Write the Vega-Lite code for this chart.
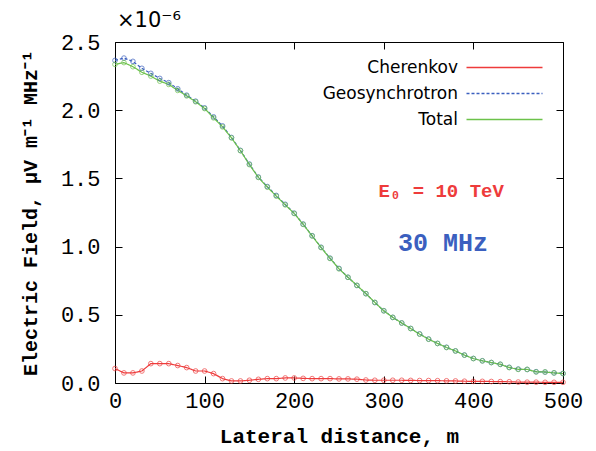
{
  "$schema": "https://vega.github.io/schema/vega-lite/v6.json",
  "width": 448,
  "height": 341,
  "autosize": {"type": "none"},
  "padding": {"left": 115, "top": 42, "right": 33, "bottom": 68},
  "background": "white",
  "title": {"text": "×10⁻⁶", "anchor": "start", "frame": "group", "font": "DejaVu Sans", "fontSize": 21, "fontWeight": "normal", "baseline": "alphabetic", "offset": -17, "dx": 2, "color": "black"},
  "config": {
    "view": {"stroke": "black", "strokeWidth": 1},
    "axis": {"grid": false, "domain": false, "labelFlush": false, "labelOverlap": false, "tickColor": "black", "tickSize": -7, "labelColor": "black", "labelFont": "Liberation Mono", "labelFontSize": 22, "titleFont": "Liberation Mono", "titleFontSize": 21, "titleFontWeight": "bold", "titleColor": "black"}
  },
  "datasets": {
    "pts": [
      {"d":0,"v":0.106,"s":"Cherenkov"},{"d":10,"v":0.074,"s":"Cherenkov"},{"d":20,"v":0.074,"s":"Cherenkov"},{"d":30,"v":0.088,"s":"Cherenkov"},{"d":40,"v":0.142,"s":"Cherenkov"},{"d":50,"v":0.142,"s":"Cherenkov"},{"d":60,"v":0.142,"s":"Cherenkov"},{"d":70,"v":0.128,"s":"Cherenkov"},{"d":80,"v":0.113,"s":"Cherenkov"},{"d":90,"v":0.088,"s":"Cherenkov"},{"d":100,"v":0.088,"s":"Cherenkov"},{"d":110,"v":0.069,"s":"Cherenkov"},{"d":120,"v":0.032,"s":"Cherenkov"},{"d":130,"v":0.015,"s":"Cherenkov"},{"d":140,"v":0.015,"s":"Cherenkov"},{"d":150,"v":0.02,"s":"Cherenkov"},{"d":160,"v":0.027,"s":"Cherenkov"},{"d":170,"v":0.032,"s":"Cherenkov"},{"d":180,"v":0.032,"s":"Cherenkov"},{"d":190,"v":0.037,"s":"Cherenkov"},{"d":200,"v":0.037,"s":"Cherenkov"},{"d":210,"v":0.034,"s":"Cherenkov"},{"d":220,"v":0.032,"s":"Cherenkov"},{"d":230,"v":0.032,"s":"Cherenkov"},{"d":240,"v":0.032,"s":"Cherenkov"},{"d":250,"v":0.03,"s":"Cherenkov"},{"d":260,"v":0.03,"s":"Cherenkov"},{"d":270,"v":0.028,"s":"Cherenkov"},{"d":280,"v":0.022,"s":"Cherenkov"},{"d":290,"v":0.02,"s":"Cherenkov"},{"d":300,"v":0.02,"s":"Cherenkov"},{"d":310,"v":0.02,"s":"Cherenkov"},{"d":320,"v":0.02,"s":"Cherenkov"},{"d":330,"v":0.019,"s":"Cherenkov"},{"d":340,"v":0.018,"s":"Cherenkov"},{"d":350,"v":0.018,"s":"Cherenkov"},{"d":360,"v":0.017,"s":"Cherenkov"},{"d":370,"v":0.016,"s":"Cherenkov"},{"d":380,"v":0.015,"s":"Cherenkov"},{"d":390,"v":0.013,"s":"Cherenkov"},{"d":400,"v":0.012,"s":"Cherenkov"},{"d":410,"v":0.012,"s":"Cherenkov"},{"d":420,"v":0.011,"s":"Cherenkov"},{"d":430,"v":0.01,"s":"Cherenkov"},{"d":440,"v":0.009,"s":"Cherenkov"},{"d":450,"v":0.007,"s":"Cherenkov"},{"d":460,"v":0.006,"s":"Cherenkov"},{"d":470,"v":0.006,"s":"Cherenkov"},{"d":480,"v":0.005,"s":"Cherenkov"},{"d":490,"v":0.005,"s":"Cherenkov"},{"d":500,"v":0.005,"s":"Cherenkov"},
      {"d":0,"v":2.365,"s":"Geosynchrotron"},{"d":10,"v":2.382,"s":"Geosynchrotron"},{"d":20,"v":2.358,"s":"Geosynchrotron"},{"d":30,"v":2.307,"s":"Geosynchrotron"},{"d":40,"v":2.27,"s":"Geosynchrotron"},{"d":50,"v":2.233,"s":"Geosynchrotron"},{"d":60,"v":2.202,"s":"Geosynchrotron"},{"d":70,"v":2.157,"s":"Geosynchrotron"},{"d":80,"v":2.11,"s":"Geosynchrotron"},{"d":90,"v":2.066,"s":"Geosynchrotron"},{"d":100,"v":2.017,"s":"Geosynchrotron"},{"d":110,"v":1.951,"s":"Geosynchrotron"},{"d":120,"v":1.885,"s":"Geosynchrotron"},{"d":130,"v":1.8,"s":"Geosynchrotron"},{"d":140,"v":1.705,"s":"Geosynchrotron"},{"d":150,"v":1.605,"s":"Geosynchrotron"},{"d":160,"v":1.51,"s":"Geosynchrotron"},{"d":170,"v":1.44,"s":"Geosynchrotron"},{"d":180,"v":1.375,"s":"Geosynchrotron"},{"d":190,"v":1.31,"s":"Geosynchrotron"},{"d":200,"v":1.245,"s":"Geosynchrotron"},{"d":210,"v":1.165,"s":"Geosynchrotron"},{"d":220,"v":1.08,"s":"Geosynchrotron"},{"d":230,"v":0.995,"s":"Geosynchrotron"},{"d":240,"v":0.915,"s":"Geosynchrotron"},{"d":250,"v":0.84,"s":"Geosynchrotron"},{"d":260,"v":0.775,"s":"Geosynchrotron"},{"d":270,"v":0.715,"s":"Geosynchrotron"},{"d":280,"v":0.655,"s":"Geosynchrotron"},{"d":290,"v":0.59,"s":"Geosynchrotron"},{"d":300,"v":0.53,"s":"Geosynchrotron"},{"d":310,"v":0.481,"s":"Geosynchrotron"},{"d":320,"v":0.44,"s":"Geosynchrotron"},{"d":330,"v":0.4,"s":"Geosynchrotron"},{"d":340,"v":0.36,"s":"Geosynchrotron"},{"d":350,"v":0.322,"s":"Geosynchrotron"},{"d":360,"v":0.29,"s":"Geosynchrotron"},{"d":370,"v":0.262,"s":"Geosynchrotron"},{"d":380,"v":0.235,"s":"Geosynchrotron"},{"d":390,"v":0.205,"s":"Geosynchrotron"},{"d":400,"v":0.18,"s":"Geosynchrotron"},{"d":410,"v":0.163,"s":"Geosynchrotron"},{"d":420,"v":0.15,"s":"Geosynchrotron"},{"d":430,"v":0.137,"s":"Geosynchrotron"},{"d":440,"v":0.115,"s":"Geosynchrotron"},{"d":450,"v":0.102,"s":"Geosynchrotron"},{"d":460,"v":0.099,"s":"Geosynchrotron"},{"d":470,"v":0.083,"s":"Geosynchrotron"},{"d":480,"v":0.08,"s":"Geosynchrotron"},{"d":490,"v":0.074,"s":"Geosynchrotron"},{"d":500,"v":0.07,"s":"Geosynchrotron"},
      {"d":0,"v":2.336,"s":"Total"},{"d":10,"v":2.349,"s":"Total"},{"d":20,"v":2.319,"s":"Total"},{"d":30,"v":2.278,"s":"Total"},{"d":40,"v":2.25,"s":"Total"},{"d":50,"v":2.213,"s":"Total"},{"d":60,"v":2.189,"s":"Total"},{"d":70,"v":2.145,"s":"Total"},{"d":80,"v":2.105,"s":"Total"},{"d":90,"v":2.062,"s":"Total"},{"d":100,"v":2.012,"s":"Total"},{"d":110,"v":1.944,"s":"Total"},{"d":120,"v":1.878,"s":"Total"},{"d":130,"v":1.797,"s":"Total"},{"d":140,"v":1.703,"s":"Total"},{"d":150,"v":1.601,"s":"Total"},{"d":160,"v":1.507,"s":"Total"},{"d":170,"v":1.436,"s":"Total"},{"d":180,"v":1.37,"s":"Total"},{"d":190,"v":1.306,"s":"Total"},{"d":200,"v":1.243,"s":"Total"},{"d":210,"v":1.163,"s":"Total"},{"d":220,"v":1.078,"s":"Total"},{"d":230,"v":0.993,"s":"Total"},{"d":240,"v":0.913,"s":"Total"},{"d":250,"v":0.837,"s":"Total"},{"d":260,"v":0.775,"s":"Total"},{"d":270,"v":0.716,"s":"Total"},{"d":280,"v":0.655,"s":"Total"},{"d":290,"v":0.591,"s":"Total"},{"d":300,"v":0.529,"s":"Total"},{"d":310,"v":0.481,"s":"Total"},{"d":320,"v":0.44,"s":"Total"},{"d":330,"v":0.399,"s":"Total"},{"d":340,"v":0.358,"s":"Total"},{"d":350,"v":0.321,"s":"Total"},{"d":360,"v":0.29,"s":"Total"},{"d":370,"v":0.26,"s":"Total"},{"d":380,"v":0.235,"s":"Total"},{"d":390,"v":0.204,"s":"Total"},{"d":400,"v":0.179,"s":"Total"},{"d":410,"v":0.162,"s":"Total"},{"d":420,"v":0.15,"s":"Total"},{"d":430,"v":0.137,"s":"Total"},{"d":440,"v":0.113,"s":"Total"},{"d":450,"v":0.1,"s":"Total"},{"d":460,"v":0.1,"s":"Total"},{"d":470,"v":0.081,"s":"Total"},{"d":480,"v":0.081,"s":"Total"},{"d":490,"v":0.074,"s":"Total"},{"d":500,"v":0.069,"s":"Total"}
    ]
  },
  "layer": [
    {
      "data": {"name": "pts"},
      "mark": {"type": "line", "strokeWidth": 1.2},
      "encoding": {
        "x": {"field": "d", "type": "quantitative", "scale": {"domain": [0, 500], "nice": false}, "axis": {"orient": "bottom", "values": [0, 100, 200, 300, 400, 500], "labelPadding": 14, "title": "Lateral distance, m", "titlePadding": 14}},
        "y": {"field": "v", "type": "quantitative", "scale": {"domain": [0, 2.5], "nice": false}, "axis": {"orient": "left", "values": [0, 0.5, 1, 1.5, 2, 2.5], "format": ".1f", "labelPadding": 22, "title": "Electric Field, μV m⁻¹ MHz⁻¹", "titlePadding": 20, "titleFontSize": 20}},
        "color": {"field": "s", "type": "nominal", "scale": {"domain": ["Cherenkov", "Geosynchrotron", "Total"], "range": ["#ee3b3b", "#3b5fbf", "#6cc24a"]}, "legend": {"title": null, "orient": "none", "legendX": 379, "legendY": 15, "padding": 0, "labelAlign": "right", "labelOffset": -57, "labelFont": "DejaVu Sans", "labelFontSize": 17, "labelColor": "black", "symbolType": "M-4,0H4", "symbolSize": 361, "symbolStrokeWidth": 1.5, "rowPadding": 7}},
        "strokeDash": {"field": "s", "type": "nominal", "scale": {"domain": ["Cherenkov", "Geosynchrotron", "Total"], "range": [[1, 0], [3, 2], [1, 0]]}, "legend": {"title": null, "orient": "none", "legendX": 379, "legendY": 15, "padding": 0, "labelAlign": "right", "labelOffset": -57, "labelFont": "DejaVu Sans", "labelFontSize": 17, "labelColor": "black", "symbolType": "M-4,0H4", "symbolSize": 361, "symbolStrokeWidth": 1.5, "rowPadding": 7}}
      }
    },
    {
      "data": {"name": "pts"},
      "mark": {"type": "point", "shape": "circle", "filled": false, "size": 22, "strokeWidth": 1},
      "encoding": {
        "x": {"field": "d", "type": "quantitative", "axis": {"orient": "top", "values": [0, 100, 200, 300, 400, 500], "labels": false, "title": null}},
        "y": {"field": "v", "type": "quantitative", "axis": {"orient": "right", "values": [0, 0.5, 1, 1.5, 2, 2.5], "labels": false, "title": null}},
        "color": {"field": "s", "type": "nominal", "legend": null}
      }
    },
    {
      "data": {"values": [{}]},
      "mark": {"type": "text", "text": "E₀ = 10 TeV", "font": "Liberation Mono", "fontSize": 19, "fontWeight": "bold", "color": "#ee3b3b", "align": "center", "baseline": "alphabetic"},
      "encoding": {"x": {"datum": 364, "type": "quantitative", "axis": null}, "y": {"datum": 1.365, "type": "quantitative", "axis": null}}
    },
    {
      "data": {"values": [{}]},
      "mark": {"type": "text", "text": "30 MHz", "font": "Liberation Mono", "fontSize": 25, "fontWeight": "bold", "color": "#3b5fbf", "align": "center", "baseline": "alphabetic"},
      "encoding": {"x": {"datum": 366, "type": "quantitative", "axis": null}, "y": {"datum": 0.968, "type": "quantitative", "axis": null}}
    }
  ]
}
